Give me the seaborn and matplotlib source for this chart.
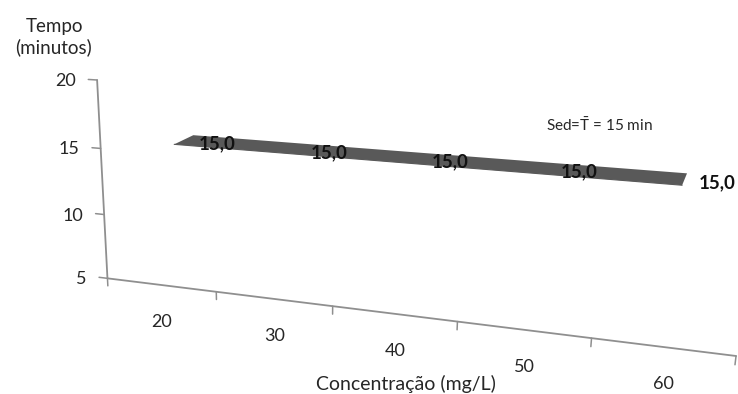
import numpy as np
import matplotlib
matplotlib.use("Agg")
import matplotlib.pyplot as plt
import seaborn as sns

# --- data -------------------------------------------------------------
concentracao = ["20", "30", "40", "50", "60"]          # mg/L
tempo = [15.0, 15.0, 15.0, 15.0, 15.0]                 # minutes
value_ticks = [5, 10, 15, 20]
value_min, value_max = 5, 20

# --- 3-D view -----------------------------------------------------------
# camera matrix: (category slot, depth, value, 1) -> pixel (x right, y down)
CAMERA = np.array([
    [1.00093605e+02, 2.39274006e+01, -1.00281420e+00, 1.10671778e+02],
    [3.89236942e+00, -4.88036704e+00, -1.32689692e+01, 3.40034611e+02],
    [-3.19604215e-02, 2.89039205e-02, -3.34105951e-03, 1.00000000e+00],
])
RIBBON_FRONT, RIBBON_BACK = 0.9, 1.9
W, H = 738, 394


def project(u, d, v):
    u = np.atleast_1d(np.asarray(u, float))
    d = np.broadcast_to(np.asarray(d, float), u.shape)
    v = np.broadcast_to(np.asarray(v, float), u.shape)
    h = np.c_[u, d, v, np.ones_like(u)] @ CAMERA.T
    return h[:, 0] / h[:, 2], h[:, 1] / h[:, 2]


sns.set_theme(style="white")
plt.rcParams["font.family"] = ["Lato", "DejaVu Sans"]
plt.rcParams["mathtext.fontset"] = "custom"
plt.rcParams["mathtext.rm"] = "Lato"
plt.rcParams["mathtext.it"] = "Lato:italic"
plt.rcParams["mathtext.bf"] = "Lato:bold"

fig = plt.figure(figsize=(W / 100, H / 100), dpi=100)
ax = fig.add_axes([0, 0, 1, 1])
ax.set_xlim(0, W)
ax.set_ylim(H, 0)
ax.axis("off")

axis_color = "#8f8f8f"
text_color = "#262626"
ribbon_color = "#595959"
n = len(concentracao)
slots = np.arange(n) + 0.5

# category axis along the front floor edge
cx, cy = project([0, n], 0, value_min)
sns.lineplot(x=cx, y=cy, ax=ax, color=axis_color, lw=1.3, sort=False, estimator=None)
for k in range(n + 1):
    tx, ty = project([k, k], 0, [value_min, value_min - 0.6])
    ax.plot(tx, ty, color=axis_color, lw=1.1)
for s, lab in zip(slots, concentracao):
    px, py = project(s, 0, value_min)
    ax.annotate(lab, (px[0], py[0]), xytext=(1, -37), textcoords="offset pixels",
                ha="center", va="center", fontsize=13, color=text_color)

# value axis at the front-left corner
vx, vy = project([0, 0], 0, [value_min, value_max])
sns.lineplot(x=vx, y=vy, ax=ax, color=axis_color, lw=1.3, sort=False, estimator=None)
for t in value_ticks:
    tx, ty = project([0, -0.08], 0, [t, t])
    ax.plot(tx, ty, color=axis_color, lw=1.1)
    ax.annotate(str(t), (tx[0], ty[0]), xytext=(-21, -1), textcoords="offset pixels",
                ha="right", va="center", fontsize=13, color=text_color)

# series ribbon
fx, fy = project(slots, RIBBON_FRONT, tempo)
bx, by = project(slots, RIBBON_BACK, tempo)
ax.fill(np.r_[fx, bx[::-1]], np.r_[fy, by[::-1]], color=ribbon_color, lw=0)
sns.lineplot(x=fx, y=fy, ax=ax, color=ribbon_color, lw=0.8, sort=False, estimator=None)

# data labels
mx, my = project(slots, (RIBBON_FRONT + RIBBON_BACK) / 2, tempo)
for x, y, val in zip(mx, my, tempo):
    ax.annotate(f"{val:.1f}".replace(".", ","), (x, y), xytext=(33, -4),
                textcoords="offset pixels", ha="center", va="center",
                fontsize=13.5, fontweight="bold", color="#111111")

# annotation and axis titles
ax.text(599, 125, r"Sed=$\bar{\mathrm{T}}$ = 15 min", ha="center", va="center",
        fontsize=11, color=text_color)
ax.text(54, 37, "Tempo\n(minutos)", ha="center", va="center", fontsize=13.5,
        color=text_color, linespacing=1.25, multialignment="center")
ax.text(406, 384, "Concentração (mg/L)", ha="center", va="center", fontsize=14,
        color=text_color)

fig.savefig("out.png", dpi=100)
